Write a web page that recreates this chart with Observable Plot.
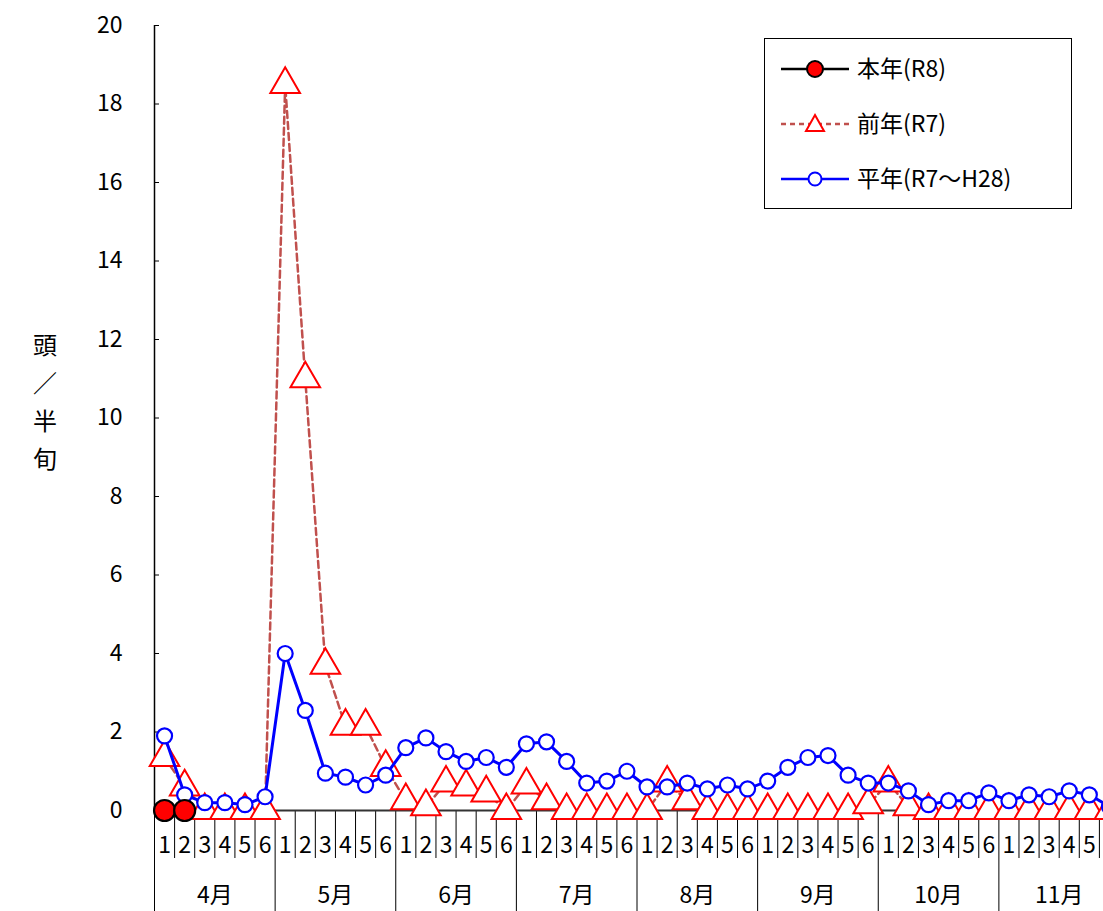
<!DOCTYPE html>
<html>
<head>
<meta charset="utf-8">
<script src="https://cdn.jsdelivr.net/npm/d3@7"></script>
<script src="https://cdn.jsdelivr.net/npm/@observablehq/plot@0.6"></script>
<style>
  html, body { margin: 0; padding: 0; background: #fff; overflow: hidden; }
  #wrap { position: relative; width: 1103px; height: 911px; overflow: hidden; font-family: "Noto Sans CJK JP", sans-serif; }
  #chart svg { max-width: none !important; }
  #ytitle { position: absolute; left: 30px; top: 325px; font-size: 24px; line-height: 38px; width: 30px; text-align: center; }
  #legend { position: absolute; left: 764px; top: 38px; width: 308px; height: 171px; box-sizing: border-box; border: 1px solid #000; background: #fff; }
</style>
</head>
<body>
<div id="wrap">
  <div id="chart"></div>
  <div id="ytitle">頭<br>／<br>半<br>旬</div>
  <div id="legend"></div>
</div>
<script>
(function() {
  "use strict";

  var months = ["4月", "5月", "6月", "7月", "8月", "9月", "10月", "11月"];
  var periodLabels = ["1", "2", "3", "4", "5", "6"];
  var yTicks = [0, 2, 4, 6, 8, 10, 12, 14, 16, 18, 20];

  var thisYear = [0, 0];
  var lastYear = [
    1.35, 0.6, 0, 0, 0, 0,
    18.5, 11.0, 3.7, 2.15, 2.15, 1.1,
    0.25, 0.1, 0.7, 0.6, 0.45, 0,
    0.65, 0.25, 0, 0, 0, 0,
    0, 0.7, 0.25, 0, 0, 0,
    0, 0, 0, 0, 0, 0.15,
    0.7, 0.1, 0, 0, 0, 0,
    0, 0, 0, 0, 0, 0
  ];
  var normalYear = [
    1.9, 0.4, 0.2, 0.2, 0.15, 0.35,
    4.0, 2.55, 0.95, 0.85, 0.65, 0.9,
    1.6, 1.85, 1.5, 1.25, 1.35, 1.1,
    1.7, 1.75, 1.25, 0.7, 0.75, 1.0,
    0.6, 0.6, 0.7, 0.55, 0.65, 0.55,
    0.75, 1.1, 1.35, 1.4, 0.9, 0.7,
    0.7, 0.5, 0.15, 0.25, 0.25, 0.45,
    0.25, 0.4, 0.35, 0.5, 0.4, 0.1
  ];

  var pxPerUnit = 785 / 20;
  function below(px) { return -px / pxPerUnit; }
  var xPerPx = 1 / 20.1;

  function toRows(values) {
    return values.map(function(v, i) { return { i: i, v: v }; });
  }

  var periods = d3.range(months.length * 6);
  var boundaries = d3.range(months.length * 6 + 1).map(function(k) { return k - 0.5; });
  var monthBounds = boundaries.filter(function(b, k) { return k % 6 === 0; });
  var periodBounds = boundaries.filter(function(b, k) { return k % 6 !== 0; });

  var font = "Noto Sans CJK JP";

  var plot = Plot.plot({
    width: 1128,
    height: 911,
    marginLeft: 154,
    marginRight: 9,
    marginTop: 25,
    marginBottom: 101,
    style: { fontFamily: font, background: "#fff", overflow: "visible", maxWidth: "none" },
    x: { type: "linear", domain: [-0.5, 47.5], axis: null },
    y: { type: "linear", domain: [0, 20], axis: null },
    marks: [
      Plot.ruleX(periodBounds, { x: function(d) { return d; }, y1: 0, y2: below(48), stroke: "#000", strokeWidth: 1 }),
      Plot.ruleX(monthBounds, { x: function(d) { return d; }, y1: 0, y2: below(101), stroke: "#000", strokeWidth: 1 }),
      Plot.ruleX([-0.5], { x: function(d) { return d; }, y1: 0, y2: 20, stroke: "#000", strokeWidth: 1.5 }),
      Plot.ruleY(yTicks, { y: function(d) { return d; }, x1: -0.5, x2: -0.5 + 5 * xPerPx, stroke: "#000" }),
      Plot.text(yTicks, { y: function(d) { return d; }, x: -0.5, text: function(d) { return String(d); }, textAnchor: "end", dx: -32, fontSize: 23, fill: "#000" }),
      Plot.ruleY([0], { stroke: "#333", strokeWidth: 2 }),
      Plot.text(periods, { x: function(d) { return d; }, y: below(35), text: function(d) { return periodLabels[d % 6]; }, fontSize: 23, fill: "#000" }),
      Plot.text(months, { x: function(d, k) { return k * 6 + 2.5; }, y: below(85), text: function(d) { return d; }, fontSize: 23, fill: "#000" }),
      Plot.line(toRows(lastYear), { x: "i", y: "v", stroke: "#c0504d", strokeWidth: 2.5, strokeDasharray: "7,4" }),
      Plot.dot(toRows(lastYear), { x: "i", y: "v", symbol: "triangle", r: 11, stroke: "#ff0000", strokeWidth: 2, fill: "#fff" }),
      Plot.line(toRows(normalYear), { x: "i", y: "v", stroke: "#0000ff", strokeWidth: 3 }),
      Plot.dot(toRows(normalYear), { x: "i", y: "v", r: 7.5, stroke: "#0000ff", strokeWidth: 2.2, fill: "#fff" }),
      Plot.line(toRows(thisYear), { x: "i", y: "v", stroke: "#000", strokeWidth: 3 }),
      Plot.dot(toRows(thisYear), { x: "i", y: "v", r: 10.5, stroke: "#000", strokeWidth: 2.2, fill: "#ff0000" })
    ]
  });
  document.getElementById("chart").appendChild(plot);

  // legend
  var items = [
    { label: "本年(R8)", stroke: "#000", dash: null, sym: "circle", fill: "#ff0000", symStroke: "#000" },
    { label: "前年(R7)", stroke: "#c0504d", dash: "5,4", sym: "triangle", fill: "#fff", symStroke: "#ff0000" },
    { label: "平年(R7～H28)", stroke: "#0000ff", dash: null, sym: "circle", fill: "#fff", symStroke: "#0000ff" }
  ];
  var svg = d3.select("#legend").append("svg").attr("width", 306).attr("height", 169);
  items.forEach(function(it, k) {
    var y = 30 + k * 55;
    svg.append("line").attr("x1", 16).attr("x2", 84).attr("y1", y).attr("y2", y)
      .attr("stroke", it.stroke).attr("stroke-width", 2.5).attr("stroke-dasharray", it.dash);
    if (it.sym === "circle") {
      svg.append("circle").attr("cx", 50).attr("cy", y).attr("r", it.fill === "#ff0000" ? 8 : 6.5)
        .attr("fill", it.fill).attr("stroke", it.symStroke).attr("stroke-width", 2);
    } else {
      svg.append("path").attr("d", "M50," + (y - 9) + "L59," + (y + 7) + "L41," + (y + 7) + "Z")
        .attr("fill", it.fill).attr("stroke", it.symStroke).attr("stroke-width", 2);
    }
    svg.append("text").attr("x", 92).attr("y", y + 8).attr("font-size", 23)
      .attr("font-family", font).text(it.label);
  });
})();
</script>
</body>
</html>
